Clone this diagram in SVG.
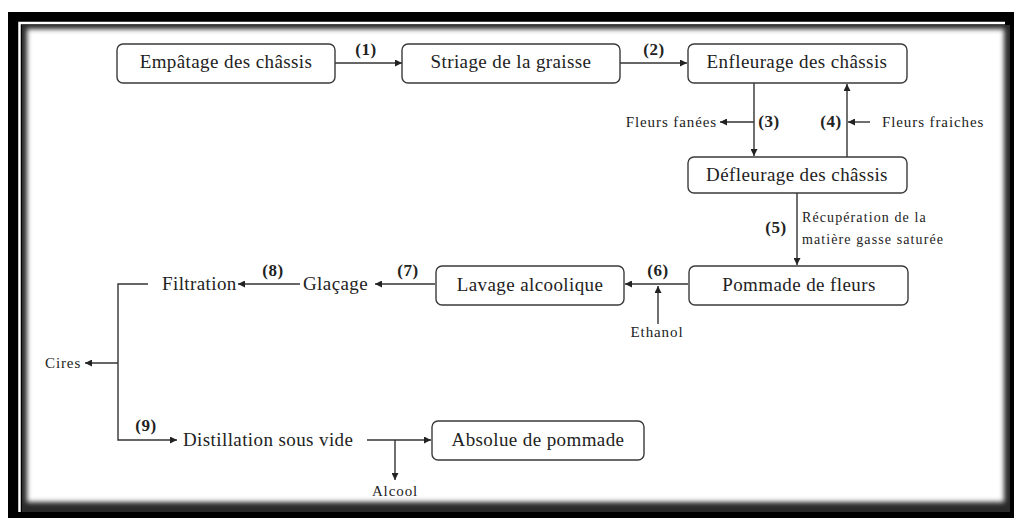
<svg xmlns="http://www.w3.org/2000/svg" width="1014" height="518" viewBox="0 0 1014 518">
<style>
.box{fill:#fff;stroke:#3a3a3a;stroke-width:1.4}
.lbl{font-family:"Liberation Serif","Times New Roman",serif;font-size:19px;fill:#222;letter-spacing:0.4px}
.num{font-family:"Liberation Serif","Times New Roman",serif;font-size:17px;font-weight:bold;fill:#222;letter-spacing:0.6px}
.sm{font-family:"Liberation Serif","Times New Roman",serif;font-size:15px;fill:#222;letter-spacing:0.9px}
.xs{font-family:"Liberation Serif","Times New Roman",serif;font-size:14px;fill:#222;letter-spacing:1.1px}
.c{text-anchor:middle}
.e{text-anchor:end}
#connectors path{fill:none;stroke:#333;stroke-width:1.4;marker-end:url(#ah)}
</style>
<defs>
<marker id="ah" viewBox="0 0 10 10" refX="10" refY="5" markerUnits="userSpaceOnUse" markerWidth="8" markerHeight="7" orient="auto">
<path d="M0,0 L10,5 L0,10 z" fill="#222"/>
</marker>
<filter id="blur" x="-5%" y="-5%" width="110%" height="110%">
<feGaussianBlur stdDeviation="2.5"/>
</filter>
</defs>
<rect x="0" y="0" width="1014" height="518" fill="#fff"/>
<rect x="8" y="12" width="1006" height="506" fill="#000"/>
<path d="M19.5,512 V23 H1005" fill="none" stroke="#fff" stroke-width="2.5"/>
<rect x="22" y="25" width="988" height="487" fill="#2a2a2a"/>
<rect x="27" y="29" width="977" height="473" fill="#fff" filter="url(#blur)"/>

<g id="connectors">
<path d="M335,63 H402"/>
<path d="M620,63 H687"/>
<path d="M754,83 V156"/>
<path d="M754,122 H720"/>
<path d="M847,193 V84"/>
<path d="M870,122 H848"/>
<path d="M797,193 V265"/>
<path d="M688,284 H625"/>
<path d="M658,324 V286"/>
<path d="M435,284 H375"/>
<path d="M300,284 H238"/>
<path d="M148,284 H118 V440 H177"/>
<path d="M118,363 H85"/>
<path d="M367,440 H431"/>
<path d="M395,440 V480"/>
</g>

<g id="n-empatage"><rect class="box" x="117" y="44" width="218" height="39" rx="6"/><text class="lbl c" x="226" y="68">Empâtage des châssis</text></g>
<g id="n-striage"><rect class="box" x="402" y="44" width="218" height="39" rx="6"/><text class="lbl c" x="511" y="68">Striage de la graisse</text></g>
<g id="n-enfleurage"><rect class="box" x="688" y="44" width="219" height="39" rx="6"/><text class="lbl c" x="797" y="68">Enfleurage des châssis</text></g>
<g id="n-defleurage"><rect class="box" x="688" y="157" width="219" height="36" rx="6"/><text class="lbl c" x="797" y="181">Défleurage des châssis</text></g>
<g id="n-pommade"><rect class="box" x="689" y="266" width="219" height="39" rx="6"/><text class="lbl c" x="799" y="291">Pommade de fleurs</text></g>
<g id="n-lavage"><rect class="box" x="436" y="266" width="188" height="39" rx="6"/><text class="lbl c" x="530" y="291">Lavage alcoolique</text></g>
<g id="n-absolue"><rect class="box" x="432" y="421" width="212" height="39" rx="6"/><text class="lbl c" x="538" y="446">Absolue de pommade</text></g>
<g id="n-glacage"><text class="lbl" x="303" y="290">Glaçage</text></g>
<g id="n-filtration"><text class="lbl" x="162" y="290">Filtration</text></g>
<g id="n-distillation"><text class="lbl" x="183" y="446">Distillation sous vide</text></g>
<g id="n-fanees"><text class="sm e" x="717" y="127">Fleurs fanées</text></g>
<g id="n-fraiches"><text class="sm" x="882" y="127">Fleurs fraiches</text></g>
<g id="n-ethanol"><text class="sm c" x="657" y="337">Ethanol</text></g>
<g id="n-cires"><text class="sm" x="45" y="368">Cires</text></g>
<g id="n-alcool"><text class="sm c" x="395" y="496">Alcool</text></g>

<g id="labels">
<text class="num c" x="366" y="55">(1)</text>
<text class="num c" x="654" y="55">(2)</text>
<text class="num c" x="769" y="127">(3)</text>
<text class="num c" x="831" y="127">(4)</text>
<text class="num c" x="776" y="233">(5)</text>
<text class="num c" x="658" y="276">(6)</text>
<text class="num c" x="408" y="276">(7)</text>
<text class="num c" x="273" y="276">(8)</text>
<text class="num c" x="146" y="431">(9)</text>
<text class="xs" x="802" y="222">Récupération de la</text>
<text class="xs" x="802" y="244">matière gasse saturée</text>
</g>
</svg>
